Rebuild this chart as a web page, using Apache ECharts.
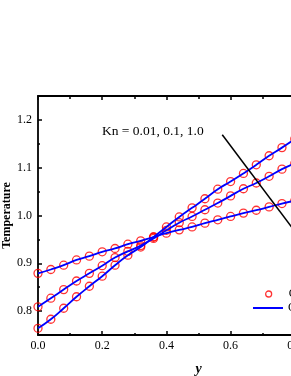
<!DOCTYPE html>
<html><head><meta charset="utf-8">
<script src="https://cdn.jsdelivr.net/npm/echarts@6/dist/echarts.min.js"></script>
<style>html,body{margin:0;padding:0;background:#fff}#c{width:291px;height:376px}</style>
</head><body><div id="c"></div>
<script>
// ---- data ----
const yPos = [0.00,0.04,0.08,0.12,0.16,0.20,0.24,0.28,0.32,0.36,0.40,0.44,0.48,0.52,0.56,0.60,0.64,0.68,0.72,0.76,0.80];
const tKn001 = [0.764,0.783,0.806,0.830,0.852,0.873,0.896,0.917,0.934,0.955,0.976,0.997,1.016,1.035,1.055,1.071,1.088,1.106,1.125,1.142,1.160];
const tKn01  = [0.809,0.827,0.845,0.863,0.879,0.895,0.912,0.925,0.937,0.952,0.969,0.985,0.998,1.012,1.026,1.041,1.056,1.068,1.082,1.097,1.109];
const tKn1   = [0.879,0.887,0.896,0.907,0.915,0.924,0.931,0.940,0.947,0.955,0.963,0.970,0.976,0.984,0.991,0.998,1.005,1.011,1.018,1.025,1.031];
const pointerLine = [[0.574,1.169],[0.86,0.913]];
const yMajor = [0.8,0.9,1.0,1.1,1.2];
const yMinor = [0.75,0.85,0.95,1.05,1.15,1.25];
const legendNames = ['CLBM','CDUGKS'];
const annotation = 'Kn = 0.01, 0.1, 1.0';

const FONT = 'Liberation Serif';
const pairs = v => yPos.map((x,i)=>[x,v[i]]);
const curves = [tKn001, tKn01, tKn1];

const series = [];
curves.forEach(v=>{
  series.push({type:'scatter', name:legendNames[0], data:pairs(v), symbol:'circle', symbolSize:8,
    itemStyle:{color:'rgba(0,0,0,0)', borderColor:'#ff0000', borderWidth:1.3}, z:2});
});
curves.forEach(v=>{
  series.push({type:'line', name:legendNames[1], data:pairs(v), smooth:true, symbol:'none',
    lineStyle:{color:'#0000ff', width:1.8}, itemStyle:{color:'#0000ff'}, z:3});
});
series.push({type:'line', data:pointerLine, symbol:'none', lineStyle:{color:'#000', width:1.5}, z:4, silent:true});

const axisLineS = {show:true, lineStyle:{color:'#000', width:1.8}};
const legendText = {fontFamily:FONT, fontSize:12, color:'#000'};
const chart = echarts.init(document.getElementById('c'), null, {renderer:'canvas'});
chart.setOption({
  animation:false,
  backgroundColor:'#fff',
  grid:{left:38, top:96, width:321, height:239, containLabel:false, outerBoundsMode:'none'},
  xAxis:[
    {type:'value', min:0, max:1, interval:0.2, position:'bottom',
     axisLine:axisLineS, splitLine:{show:false},
     axisTick:{inside:true, length:4, lineStyle:{width:1.5,color:'#000'}},
     minorTick:{show:true, splitNumber:2, length:2, lineStyle:{width:1.5,color:'#000'}},
     axisLabel:{fontFamily:FONT, fontSize:12, color:'#000', margin:5, formatter:v=>v.toFixed(1)},
     name:'y', nameLocation:'middle', nameGap:27, nameMoveOverlap:false,
     nameTextStyle:{fontFamily:FONT, fontSize:14, fontWeight:'bold', fontStyle:'italic', color:'#000'}},
    {type:'value', min:0, max:1, interval:0.2, position:'top',
     axisLine:axisLineS, splitLine:{show:false},
     axisTick:{inside:true, length:4, lineStyle:{width:1.5,color:'#000'}},
     minorTick:{show:true, splitNumber:2, length:3, lineStyle:{width:1.5,color:'#000'}},
     axisLabel:{show:false}}
  ],
  yAxis:[
    {type:'value', min:0.75, max:1.25, position:'left',
     axisLine:axisLineS, splitLine:{show:false},
     axisTick:{inside:true, length:4, customValues:yMajor, lineStyle:{width:1.5,color:'#000'}},
     axisLabel:{fontFamily:FONT, fontSize:12, color:'#000', margin:6, customValues:yMajor, formatter:v=>v.toFixed(1)},
     name:'Temperature', nameLocation:'middle', nameGap:25, nameMoveOverlap:false,
     nameTextStyle:{fontFamily:FONT, fontSize:12, fontWeight:'bold', color:'#000'}},
    {type:'value', min:0.75, max:1.25, position:'left', offset:0,
     axisLine:{show:false}, splitLine:{show:false},
     axisTick:{inside:true, length:2, customValues:yMinor, lineStyle:{width:1.5,color:'#000'}},
     axisLabel:{show:false}}
  ],
  legend:[
    {left:265, top:288, padding:0, itemWidth:30, itemHeight:6, textStyle:legendText,
     data:[{name:legendNames[0], icon:'circle', itemStyle:{color:'rgba(0,0,0,0)', borderColor:'#ff0000', borderWidth:1.3}}]},
    {left:253, top:302, padding:0, itemWidth:30, itemHeight:2, textStyle:legendText,
     data:[{name:legendNames[1], icon:'rect', itemStyle:{color:'#0000ff', borderWidth:0}}]}
  ],
  graphic:[{type:'text', left:102, top:124, style:{text:annotation, font:'13.5px "Liberation Serif"', fill:'#000'}}],
  series:series
});
</script></body></html>
